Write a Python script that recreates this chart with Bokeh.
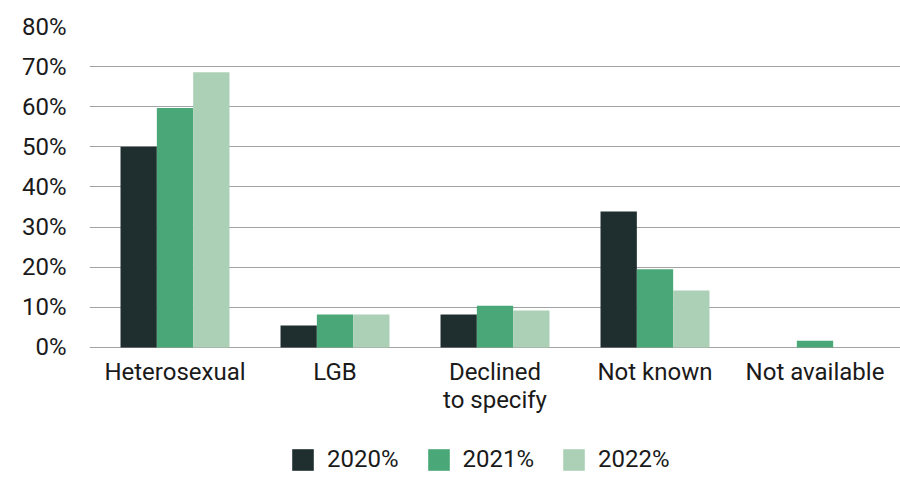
from bokeh.plotting import figure
from bokeh.models import ColumnDataSource, FixedTicker, PrintfTickFormatter, FactorRange
from bokeh.transform import dodge
from bokeh.embed import file_html
from bokeh.resources import INLINE

categories = ["Heterosexual", "LGB", "Declined\nto specify", "Not known", "Not available"]
years = ["2020%", "2021%", "2022%"]
v2020 = [50.0, 5.5, 8.2, 33.9, 0.0]
v2021 = [59.7, 8.2, 10.4, 19.5, 1.7]
v2022 = [68.6, 8.2, 9.2, 14.2, 0.0]
y_ticks = [0, 10, 20, 30, 40, 50, 60, 70, 80]

colors = ["#1f2f2f", "#4aa777", "#acd0b6"]
FONT = "Roboto"
TXT = "#1a1a1a"
FS = "24px"

src = ColumnDataSource(dict(cat=categories, y2020=v2020, y2021=v2021, y2022=v2022))

# frame spans the legend area too; value 0 sits 130px above the bottom
p = figure(
    x_range=FactorRange(*categories, range_padding=0.01375, range_padding_units="percent"),
    y_range=(-32.4, 80),
    frame_width=811, frame_height=451,
    min_border_left=89, min_border_top=26, min_border_right=0, min_border_bottom=0,
    output_backend="svg", toolbar_location=None,
)
p.outline_line_color = None
p.background_fill_color = "white"
p.border_fill_color = "white"

w = 0.227
for col, off, c, lab in zip(["y2020", "y2021", "y2022"], [-w, 0.0, w], colors, years):
    p.vbar(x=dodge("cat", off, range=p.x_range), top=col, width=w, source=src,
           fill_color=c, line_color=None, legend_label=lab)

p.yaxis.ticker = FixedTicker(ticks=y_ticks)
p.yaxis.formatter = PrintfTickFormatter(format="%d%%")
p.xaxis.fixed_location = 0
for ax in (p.xaxis[0], p.yaxis[0]):
    ax.axis_line_color = None
    ax.major_tick_line_color = None
    ax.minor_tick_line_color = None
    ax.major_tick_out = 0
    ax.major_tick_in = 0
    ax.major_label_text_font = FONT
    ax.major_label_text_font_size = FS
    ax.major_label_text_color = TXT
p.yaxis.major_label_standoff = 23
p.xaxis.major_label_standoff = 11
p.xaxis.major_label_text_line_height = 1.0

p.xgrid.grid_line_color = None
p.ygrid.grid_line_color = "#a3a3a3"
p.ygrid.grid_line_width = 1.2
p.ygrid.ticker = FixedTicker(ticks=y_ticks)

leg = p.legend[0]
leg.orientation = "horizontal"
leg.border_line_color = None
leg.background_fill_alpha = 0
leg.label_text_font = FONT
leg.label_text_font_size = FS
leg.label_text_color = TXT
leg.glyph_width = 27
leg.glyph_height = 27
leg.label_standoff = 11
leg.spacing = 26
leg.padding = 0
leg.margin = 0
leg.location = (200, 4)

open("out.html", "w").write(file_html(p, INLINE))
